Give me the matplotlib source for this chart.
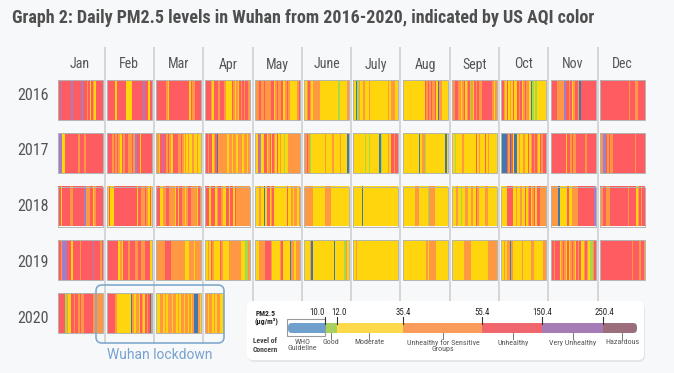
import calendar

import matplotlib
matplotlib.use("Agg")
import matplotlib.pyplot as plt
import numpy as np
from matplotlib import font_manager
from matplotlib.colors import ListedColormap
from matplotlib.patches import Rectangle, FancyBboxPatch

# Data: one string per month, one letter per day (spaces only for readability)
# B=WHO guideline, G=good, Y=moderate, O=unhealthy for sensitive groups,
# R=unhealthy, P=very unhealthy, H=hazardous
months = ["Jan", "Feb", "Mar", "Apr", "May", "June", "July", "Aug", "Sept", "Oct", "Nov", "Dec"]
years = [2016, 2017, 2018, 2019, 2020]

levels_2016 = [
    "RRPRR RRRRP RRRRR RPRRR ORYRO YRRRR R", "RRRRR YRRRR RRYYY YRRRR RRRPR RYRR",
    "RRRRR RROYR RRRRR RRRRR RRRYR OORRR R", "ORRRO YRRRO RRROY YYYRO YOYRO RORRO",
    "YOORO OROOO ORRYO ROORY YOROY YYYYO R", "YYORO YOOOO OYYYY YYYYY YYYGY YYYYO",
    "BYBGO YYOYY YOYYY YYYYY YYYYO YOOOY Y", "YYYYY YYYYY YYYYY ROROR OORYB OOYYY Y",
    "RORRO OYORY ORGOY ROROO RRRRR RROYO", "YROYR YOYRY YRORY OROOY BGYGY YYYYY Y",
    "YRRRO OOOOP RRORY ORROB RRRRR RRRRR", "RRRRR RRRRR RRRRR RRRRR ORRRO ORRRR R",
]
levels_2017 = [
    "PPPYY RRRRR RRRRO RRROR RRRRR RRRRR R", "RRROR OROYR ORROO ROPRR YRRRR RRR",
    "YOYRP RRORO YYRRR OOROY OYOYY OYYOY Y", "ORORR YORBO OOOOO YOOYO OYOOO YOOYO",
    "YYRPY YRRYO RYROY RYOYY GYYOO OOOOO O", "ROROG YYYYY YYYYO YYYYO YYYYO YYYYB",
    "BYYYY YYYGY YGYYY YYYBG YYYYO YRROR R", "YYYYY YYYYY YBYOO GYYYY YYYYY YYYYB Y",
    "YYGYY YYOYY YYYYY YRYOY YYRYO YYYYY", "BBBBR OBRYB BYOYY OYYRY ORORO YRORR R",
    "RRRRR RRRRR YRROR OORRR RRROR RRRRR", "ROPPR OROOR RRRRR RRRRR RRRRO RRRRR R",
]
levels_2018 = [
    "RRYRR RRROO RRRRR RRRPO OORRY ORRRR R", "YRYYR RRRRR RRRRR RRRYR ROORO YRY",
    "ORRYY OORRO OOOYR YRROO YORRO OOOYR O", "RRRYR RRYOR ROYYR RYRRY ROOOO OOOOO",
    "YYYOY YBYRR YORYY YYYYY YYRYY OYOOY O", "YOOOO OYYYY YYYYO OOOYY YYYYY YYYYY",
    "YYYYY YBYYY YYYYY YYYYY YYYYY YYYYY Y", "YYYYY YYYOO OYYYY YYGOO OOYYY YYYYY Y",
    "YYYOY YGYYO OYYOY YROYY YYOOY YYYYY", "YYYYR RRRYY OYYOY YRYOR YORYR ROOOO O",
    "OOOOO BYYYY YRYYO OOORR RRRRR RRRRP", "PORRO OORRR RRRRR RRRRO RRRRR YOROR R",
]
levels_2019 = [
    "OROPP PRRRY RRRRR ORRRR RRRRP RRRRO R", "RRRRR RRYOY RRROR RROOR ROORR RYY",
    "OOOOO ORRRR OOOOO OOOOO YYYOO OYOOO O", "YYOYR OYYYY ROYYY YOOOO OOOOY YYGGO",
    "YYYOO OORRR ROYYY YYORY YYYYB OOYOO O", "YYYYO BYYYY YYYYY YYYYY BYYYY YYGOY",
    "OYOYY YYYYY YYYYY YYYYY YYYYY YYYYY Y", "YYYYY YYYYY YYYYY YOYOO OOOYY YYYYY Y",
    "YYYYY YYYOO OOOYY YYYYY YYYYO OOOOO", "YYOYO OBOYY YYYYO YYYYY OOYYY YYYOO O",
    "ORORR RYORO YRYOR OYROR YYORO YGGOR", "ORRRR RRRRR RRRRR RRRRR RRORR RRORR O",
]
levels_2020 = [
    "RRRRR GOYYR RORRO ROORR RRRRO OOOOO O", "RRRRR OYYYY YYYYY BOYOO YROYR ORBO",
    "YYYOO YOYOO OYOOY OYOOY OOYOY OBBBO Y", "YOYOO YOYOO YY",
]
all_levels = [levels_2016, levels_2017, levels_2018, levels_2019, levels_2020]

level_codes = "BGYORPH"
level_names = ["WHO\nGuideline", "Good", "Moderate", "Unhealthy for Sensitive\nGroups",
               "Unhealthy", "Very Unhealthy", "Hazardous"]
thresholds = ["10.0", "12.0", "35.4", "55.4", "150.4", "250.4"]
cell_colors = ["#3f78aa", "#a2da4c", "#ffd50e", "#ff9843", "#ff5c62", "#a07fc6", "#9c6e7c"]
legend_colors = ["#6f9fcb", "#a8d05c", "#fdd94b", "#f89b5b", "#ef676d", "#a57cb6", "#9c6e7c"]

# fonts
installed = {f.name for f in font_manager.fontManager.ttflist}
cond = next((n for n in ["Roboto Condensed", "Liberation Sans Narrow", "Roboto"] if n in installed), "DejaVu Sans")
plt.rcParams["font.family"] = [cond, "DejaVu Sans"]

bg = "#f7f8fa"
text_col = "#555555"

fig = plt.figure(figsize=(6.74, 3.73), dpi=100)
fig.patch.set_facecolor(bg)
ax = fig.add_axes([0, 0, 1, 1])
ax.set_facecolor(bg)
ax.axis("off")

# layout (pixels)
cell_x0, step_x, cell_w = 57.5, 49.3, 45.0
row_y0, step_y, cell_h = 80.0, 53.25, 40.0

ax.text(12, 18, "Graph 2: Daily PM2.5 levels in Wuhan from 2016-2020, indicated by US AQI color",
        fontsize=13, fontweight="bold", color="#4f4f4f", va="center", ha="left")

# month separators
for j in range(11):
    x = cell_x0 + cell_w + (step_x - cell_w) / 2 + j * step_x
    ax.plot([x, x], [47, 344], color="#d0d0d0", lw=1.2, zorder=1, solid_capstyle="butt")

for m, name in enumerate(months):
    ax.text(cell_x0 + m * step_x + cell_w / 2, 64.5, name, fontsize=10, color=text_col,
            ha="center", va="center")

cmap = ListedColormap(cell_colors)
for r, (year, levels) in enumerate(zip(years, all_levels)):
    ax.text(49, 95 + r * 55.8, str(year), fontsize=11.5, color=text_col, ha="right", va="center")
    for m, day_str in enumerate(levels):
        s = day_str.replace(" ", "")
        codes = np.array([level_codes.index(c) for c in s])
        ndays = calendar.monthrange(year, m + 1)[1]
        frac = len(s) / ndays
        if abs(frac - 1) < 0.1:
            frac = 1.0
        x0 = cell_x0 + m * step_x
        y0 = row_y0 + r * step_y
        w = cell_w * frac
        ax.imshow(codes[np.newaxis, :], cmap=cmap, vmin=-0.5, vmax=6.5,
                  extent=(x0, x0 + w, y0 + cell_h, y0), aspect="auto",
                  interpolation="nearest", zorder=2)
        ax.add_patch(Rectangle((x0, y0), w, cell_h, fill=False, ec="#b3b3b3", lw=0.7, zorder=3))

# lockdown box
ax.add_patch(FancyBboxPatch((96, 285), 128, 58, boxstyle="round,pad=0,rounding_size=6",
                            fill=False, ec="#82a9ce", lw=1.2, zorder=4))
ax.text(160, 355, "Wuhan lockdown", fontsize=10, color="#78a2cf", ha="center", va="center",
        family=["Roboto", "DejaVu Sans"])

# legend panel
ax.add_patch(FancyBboxPatch((248, 303), 397, 59, boxstyle="round,pad=0,rounding_size=6",
                            fc="#00000012", ec="none", zorder=5))
ax.add_patch(FancyBboxPatch((247, 301), 397, 59, boxstyle="round,pad=0,rounding_size=6",
                            fc="white", ec="none", zorder=6))

edges = [288, 325, 337, 403, 482, 542, 603, 637]
bar_top, bar_h = 323, 10
for i, col in enumerate(legend_colors):
    x0, x1 = edges[i], edges[i + 1]
    if i == 0 or i == len(legend_colors) - 1:
        ax.add_patch(FancyBboxPatch((x0, bar_top), x1 - x0, bar_h,
                                    boxstyle="round,pad=0,rounding_size=4", fc=col, ec="none", zorder=7))
        sx = x0 + (x1 - x0) / 2 if i == 0 else x0
        ax.add_patch(Rectangle((sx, bar_top), (x1 - x0) / 2, bar_h, fc=col, ec="none", zorder=7))
    else:
        ax.add_patch(Rectangle((x0, bar_top), x1 - x0, bar_h, fc=col, ec="none", zorder=7))

ax.add_patch(Rectangle((286.5, 319), 38.5, 16.5, fill=False, ec="#9a9a9a", lw=0.8, zorder=8))

num_x = [325, 339.5, 403, 482, 542, 604]
num_ha = ["right", "center", "center", "center", "center", "center"]
for k, lab in enumerate(thresholds):
    bx = edges[k + 1]
    ax.plot([bx, bx], [316.5, 324], color="#333333", lw=0.8, zorder=8)
    ax.text(num_x[k], 312.5, lab, fontsize=6.3, color="#222222", ha=num_ha[k], va="center", zorder=8)

label_x = [302.5, 331, 369, 443, 513, 573, 622]
for k, lab in enumerate(level_names):
    if k > 0:
        ax.plot([label_x[k], label_x[k]], [333, 338.5], color="#777777", lw=0.7, zorder=8)
    ax.text(label_x[k], 339.5, lab, fontsize=5.8, color=text_col, ha="center", va="top",
            linespacing=1.0, zorder=8)

ax.text(266, 313, "PM2.5", fontsize=5.5, fontweight="bold", color="#222222", ha="center", va="center", zorder=8)
ax.text(266, 321.5, "(µg/m³)", fontsize=5.5, fontweight="bold", color="#222222", ha="center", va="center", zorder=8)
ax.text(265, 345, "Level of\nConcern", fontsize=5.5, fontweight="bold", color="#444444", ha="center",
        va="center", linespacing=1.3, zorder=8)

ax.set_xlim(0, 674)
ax.set_ylim(373, 0)

fig.savefig("out.png", dpi=100, facecolor=bg)
